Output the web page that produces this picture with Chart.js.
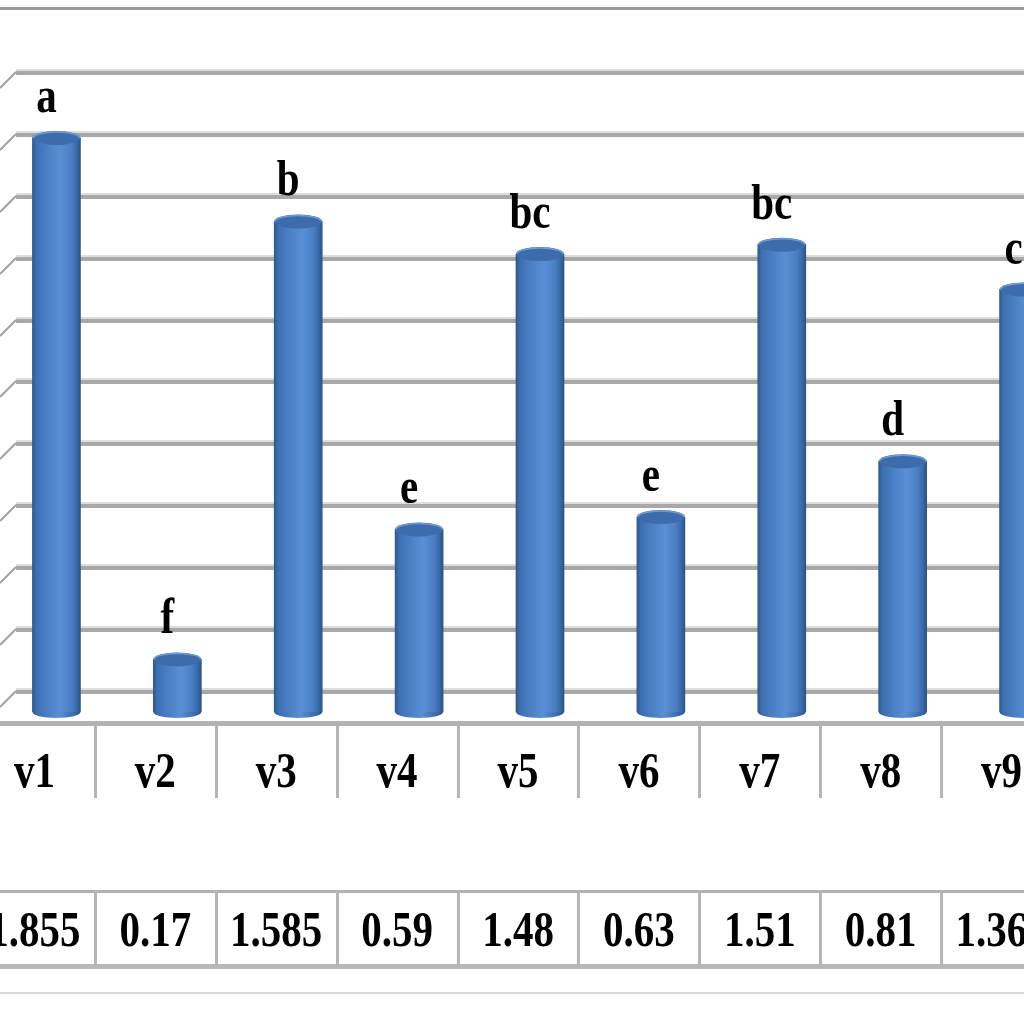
<!DOCTYPE html>
<html>
<head>
<meta charset="utf-8">
<script src="https://cdn.jsdelivr.net/npm/chart.js@4/dist/chart.umd.min.js"></script>
<style>
  html, body { margin: 0; padding: 0; background: #ffffff; overflow: hidden; width: 1024px; height: 1024px; }
  #wrap { position: absolute; left: -4px; top: 0; width: 1088px; height: 1024px; }
</style>
</head>
<body>
<div id="wrap"><canvas id="c"></canvas></div>
<script>
// ---- data ----
const categories = ['v1', 'v2', 'v3', 'v4', 'v5', 'v6', 'v7', 'v8', 'v9'];
const values = [1.855, 0.17, 1.585, 0.59, 1.48, 0.63, 1.51, 0.81, 1.365];
const valueLabels = ['1.855', '0.17', '1.585', '0.59', '1.48', '0.63', '1.51', '0.81', '1.365'];
const letters = ['a', 'f', 'b', 'e', 'bc', 'e', 'bc', 'd', 'c'];
const gridTicks = [0, 0.2, 0.4, 0.6, 0.8, 1.0, 1.2, 1.4, 1.6, 1.8, 2.0];

const FONT = 'bold 41px "Liberation Serif", "Times New Roman", serif';

function barGradient(c) {
  const chart = c.chart;
  const xs = chart.scales && chart.scales.x;
  if (!xs || c.dataIndex === undefined) return '#4a7fc4';
  const x = xs.getPixelForValue(c.dataIndex);
  if (!isFinite(x)) return '#4a7fc4';
  const w = 48;
  const g = chart.ctx.createLinearGradient(x - w / 2, 0, x + w / 2, 0);
  g.addColorStop(0, '#2d5890');
  g.addColorStop(0.08, '#3d70b2');
  g.addColorStop(0.3, '#4a7fc4');
  g.addColorStop(0.58, '#5a8fd5');
  g.addColorStop(0.82, '#4a7ec2');
  g.addColorStop(0.93, '#3867a5');
  g.addColorStop(1, '#2b5387');
  return g;
}

function stretchedText(ctx, text, x, y) {
  ctx.save();
  ctx.translate(x, y);
  ctx.scale(1, 1.25);
  ctx.fillText(text, 0, 0);
  ctx.restore();
}

const decor = {
  id: 'decor',
  beforeDatasetsDraw(chart) {
    const ctx = chart.ctx;
    const W = chart.width;
    const yg = chart.scales.yGrid;
    ctx.save();
    // outer top border
    ctx.fillStyle = '#9a9a9a';
    ctx.fillRect(0, 7, W, 3);
    // back-wall gridlines with side-wall stubs
    gridTicks.forEach(v => {
      const y = Math.round(yg.getPixelForValue(v));
      ctx.fillStyle = '#dedede';
      ctx.fillRect(20, y - 3, W, 2);
      ctx.fillStyle = '#a8a8a8';
      ctx.fillRect(20, y - 1, W, 4);
      ctx.strokeStyle = '#a0a0a0';
      ctx.lineWidth = 2;
      ctx.beginPath();
      ctx.moveTo(4, y + 16);
      ctx.lineTo(20, y);
      ctx.stroke();
    });
    ctx.restore();
  },
  afterDatasetsDraw(chart) {
    const ctx = chart.ctx;
    const W = chart.width;
    const meta = chart.getDatasetMeta(0);
    const xs = chart.scales.x;
    const colW = xs.getPixelForValue(1) - xs.getPixelForValue(0);
    ctx.save();
    // cylinder caps
    meta.data.forEach((bar, i) => {
      const p = bar.getProps(['x', 'y', 'base', 'width'], true);
      const rx = p.width / 2;
      const g = ctx.createLinearGradient(p.x - rx, 0, p.x + rx, 0);
      g.addColorStop(0, '#2d5890');
      g.addColorStop(0.1, '#3d70b2');
      g.addColorStop(0.55, '#5a8fd5');
      g.addColorStop(0.9, '#3867a5');
      g.addColorStop(1, '#2b5387');
      // bottom
      ctx.fillStyle = g;
      ctx.beginPath();
      ctx.ellipse(p.x, p.base, rx, 6, 0, 0, Math.PI);
      ctx.fill();
      // top
      ctx.fillStyle = '#3c6cab';
      ctx.beginPath();
      ctx.ellipse(p.x, p.y, rx, 7, 0, 0, Math.PI * 2);
      ctx.fill();
      ctx.strokeStyle = '#6f9bd6';
      ctx.lineWidth = 1.5;
      ctx.beginPath();
      ctx.ellipse(p.x, p.y, rx - 1, 6, 0, Math.PI, Math.PI * 2);
      ctx.stroke();
      // significance letters
      ctx.fillStyle = '#000000';
      ctx.font = FONT;
      ctx.textAlign = 'center';
      ctx.textBaseline = 'alphabetic';
      stretchedText(ctx, letters[i], p.x - 10, p.y - 26);
    });

    // data table
    ctx.fillStyle = '#b2b2b2';
    ctx.fillRect(0, 721, W, 5);
    ctx.fillRect(0, 890, W, 3);
    ctx.fillStyle = '#b8b8b8';
    ctx.fillRect(0, 964, W, 5);
    ctx.fillStyle = '#d6d6d6';
    ctx.fillRect(0, 992, W, 2);

    categories.forEach((cat, i) => {
      const cx = xs.getPixelForValue(i) - 22;
      const edge = cx + colW / 2;
      ctx.fillStyle = '#b5b5b5';
      ctx.fillRect(Math.round(edge) - 1, 726, 3, 72);
      ctx.fillRect(Math.round(edge) - 1, 892, 3, 74);
      ctx.fillStyle = '#000000';
      ctx.font = FONT;
      ctx.textAlign = 'center';
      ctx.textBaseline = 'alphabetic';
      stretchedText(ctx, cat, cx, 787);
      stretchedText(ctx, valueLabels[i], cx, 946);
    });
    ctx.restore();
  }
};

new Chart(document.getElementById('c'), {
  type: 'bar',
  data: {
    labels: categories,
    datasets: [{
      data: values,
      backgroundColor: barGradient,
      borderWidth: 0,
      barThickness: 48
    }]
  },
  options: {
    responsive: true,
    maintainAspectRatio: false,
    animation: false,
    layout: { padding: { top: 72, bottom: 312, left: 0, right: 0 } },
    plugins: { legend: { display: false }, tooltip: { enabled: false }, title: { display: false } },
    scales: {
      x: { type: 'category', display: false, offset: true, grid: { display: false } },
      y: { display: false, min: 0, max: 2.068 },
      yGrid: { display: false, min: -0.068, max: 2.0 }
    }
  },
  plugins: [decor]
});
</script>
</body>
</html>
